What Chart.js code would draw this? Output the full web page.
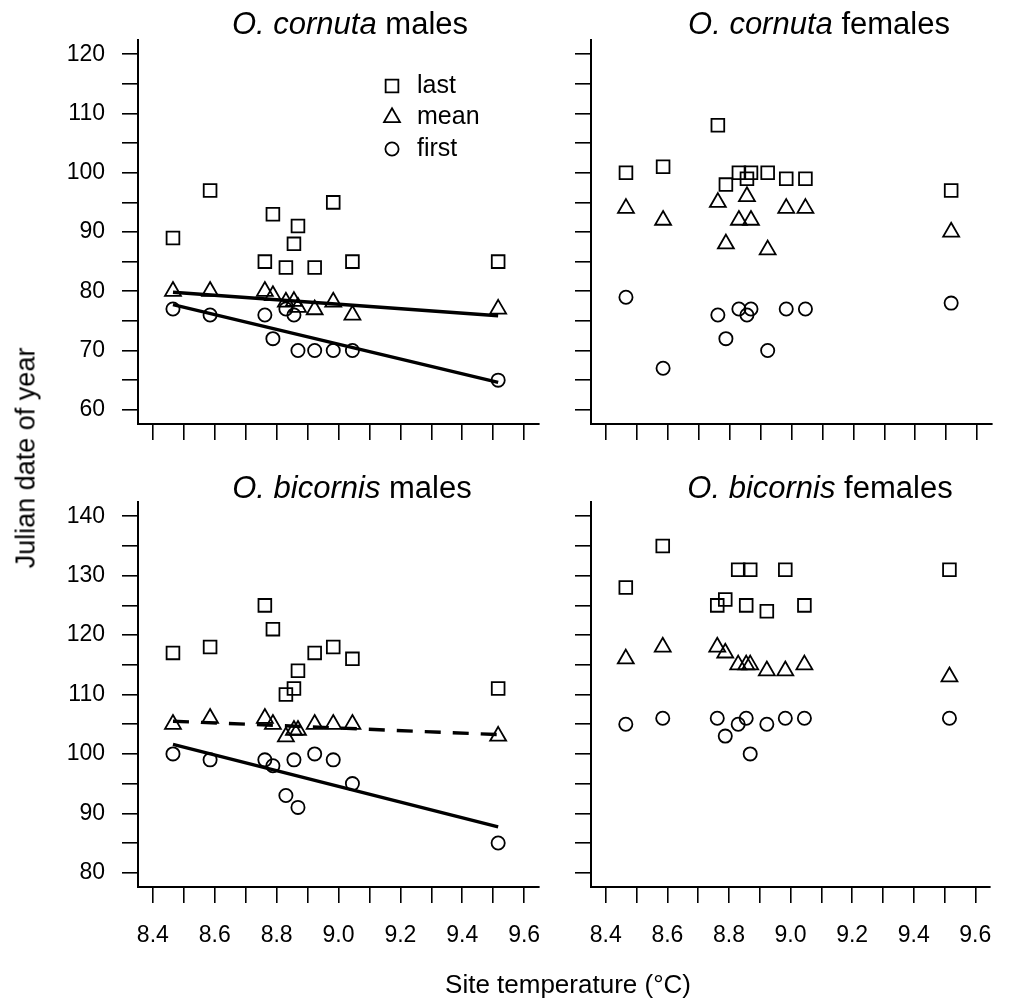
<!DOCTYPE html>
<html>
<head>
<meta charset="utf-8">
<script src="https://cdn.jsdelivr.net/npm/chart.js@4.4.1/dist/chart.umd.min.js"></script>
<style>
  body { margin: 0; background: #fff; width: 1011px; height: 999px; position: relative; overflow: hidden;
         font-family: 'Liberation Sans', Arial, sans-serif; color: #000; }
  canvas { position: absolute; }
  .lbl { position: absolute; white-space: nowrap; line-height: 1; transform: translate(-50%, -50%); }
</style>
</head>
<body>
<canvas id="tl" width="560" height="470" style="left:0;top:0"></canvas>
<canvas id="tr" width="451" height="470" style="left:560px;top:0"></canvas>
<canvas id="bl" width="560" height="529" style="left:0;top:470px"></canvas>
<canvas id="br" width="451" height="529" style="left:560px;top:470px"></canvas>

<div class="lbl" style="left:350px;top:23px;font-size:31px"><i>O. cornuta</i> males</div>
<div class="lbl" style="left:819px;top:23px;font-size:31px"><i>O. cornuta</i> females</div>
<div class="lbl" style="left:352px;top:487px;font-size:31px"><i>O. bicornis</i> males</div>
<div class="lbl" style="left:820px;top:487px;font-size:31px"><i>O. bicornis</i> females</div>
<div class="lbl" style="left:26px;top:458px;font-size:27px;transform:translate(-50%,-50%) rotate(-90deg)">Julian date of year</div>
<div class="lbl" style="left:568px;top:984px;font-size:26px">Site temperature (°C)</div>

<script>
// site temperatures (x), shared by all four panels
const temps = [8.465, 8.585, 8.762, 8.788, 8.83, 8.856, 8.869, 8.923, 8.983, 9.045, 9.516];

// O. cornuta males
const cornutaMalesLast  = [89, 97, 85, 93, 84, 88, 91, 84, 95, 85, 85];
const cornutaMalesMean  = [80, 80, 80, 79.3, 78.2, 78.3, 77.3, 76.9, 78.2, 76, 77];
const cornutaMalesFirst = [77, 76, 76, 72, 77, 76, 70, 70, 70, 70, 65];

// O. cornuta females
const cornutaFemalesLast  = [100, 101, 108, 98, 100, 99, 100, 100, 99, 99, 97];
const cornutaFemalesMean  = [94, 92, 95, 88, 92, 96, 92, 87, 94, 94, 90];
const cornutaFemalesFirst = [79, 67, 76, 72, 77, 76, 77, 70, 77, 77, 78];

// O. bicornis males
const bicornisMalesLast  = [117, 118, 125, 121, 110, 111, 114, 117, 118, 116, 111];
const bicornisMalesMean  = [105, 106, 106, 105, 102.9, 104, 104, 105, 105, 105, 103];
const bicornisMalesFirst = [100, 99, 99, 98, 93, 99, 91, 100, 99, 95, 85];

// O. bicornis females
const bicornisFemalesLast  = [128, 135, 125, 126, 131, 125, 131, 124, 131, 125, 131];
const bicornisFemalesMean  = [116, 118, 118, 117, 115, 115, 115, 114, 114, 115, 113];
const bicornisFemalesFirst = [105, 106, 106, 103, 105, 106, 100, 105, 106, 106, 106];

// axis ticks
const xTickValues = [8.4, 8.5, 8.6, 8.7, 8.8, 8.9, 9.0, 9.1, 9.2, 9.3, 9.4, 9.5, 9.6];
const xTickLabels = ['8.4', '', '8.6', '', '8.8', '', '9.0', '', '9.2', '', '9.4', '', '9.6'];
const yTicksTop = [60, 65, 70, 75, 80, 85, 90, 95, 100, 105, 110, 115, 120];
const yLabelsTop = ['60', '', '70', '', '80', '', '90', '', '100', '', '110', '', '120'];
const yTicksBottom = [80, 85, 90, 95, 100, 105, 110, 115, 120, 125, 130, 135, 140];
const yLabelsBottom = ['80', '', '90', '', '100', '', '110', '', '120', '', '130', '', '140'];

const legendNames = ['last', 'mean', 'first'];

const FONT = "'Liberation Sans', Arial, sans-serif";

function toPoints(ys) {
  return temps.map((x, i) => ({ x: x, y: ys[i] }));
}

// least squares line across the range of site temperatures
function fitLine(ys) {
  const n = temps.length;
  const mx = temps.reduce((a, b) => a + b, 0) / n;
  const my = ys.reduce((a, b) => a + b, 0) / n;
  let sxy = 0, sxx = 0;
  temps.forEach((x, i) => { sxy += (x - mx) * (ys[i] - my); sxx += (x - mx) * (x - mx); });
  const b = sxy / sxx;
  const x0 = Math.min(...temps), x1 = Math.max(...temps);
  return [{ x: x0, y: my + b * (x0 - mx) }, { x: x1, y: my + b * (x1 - mx) }];
}

function drawShape(ctx, style, r, x, y) {
  ctx.beginPath();
  if (style === 'rect') {
    const s = Math.SQRT1_2 * r;
    ctx.rect(x - s, y - s, 2 * s, 2 * s);
  } else if (style === 'triangle') {
    for (let k = 0; k < 3; k++) {
      const a = k * 2 * Math.PI / 3;
      const px = x + Math.sin(a) * r, py = y - Math.cos(a) * r;
      if (k === 0) ctx.moveTo(px, py); else ctx.lineTo(px, py);
    }
    ctx.closePath();
  } else {
    ctx.arc(x, y, r, 0, Math.PI * 2);
  }
  ctx.stroke();
}

const cornerLegend = {
  id: 'cornerLegend',
  afterDatasetsDraw(chart, args, opts) {
    if (!opts.show) return;
    const ctx = chart.ctx, area = chart.chartArea;
    ctx.save();
    legendNames.forEach((name, i) => {
      const ds = chart.data.datasets.find(d => d.label === name);
      const x = area.left + opts.x, y = area.top + opts.y + i * opts.step;
      ctx.strokeStyle = '#000';
      ctx.lineWidth = ds.borderWidth;
      drawShape(ctx, ds.pointStyle, ds.pointRadius, x, y);
      ctx.fillStyle = '#000';
      ctx.font = opts.fontSize + 'px ' + FONT;
      ctx.textAlign = 'left';
      ctx.textBaseline = 'middle';
      ctx.fillText(name, x + opts.gap, y);
    });
    ctx.restore();
  }
};

function scatterSet(label, ys, style, radius) {
  return {
    label: label,
    data: toPoints(ys),
    pointStyle: style,
    pointRadius: radius,
    borderColor: '#000',
    backgroundColor: 'rgba(0,0,0,0)',
    borderWidth: 1.8,
    showLine: false
  };
}

function fitSet(ys, dash) {
  return {
    label: 'fit',
    data: fitLine(ys),
    showLine: true,
    pointRadius: 0,
    borderColor: '#000',
    borderWidth: 3.4,
    borderDash: dash,
    fill: false
  };
}

function makePanel(id, p) {
  const datasets = [];
  p.fits.forEach(f => datasets.push(fitSet(f.ys, f.dash)));
  datasets.push(scatterSet('last', p.last, 'rect', 9));
  datasets.push(scatterSet('mean', p.mean, 'triangle', 9.2));
  datasets.push(scatterSet('first', p.first, 'circle', 6.6));

  return new Chart(document.getElementById(id), {
    type: 'scatter',
    data: { datasets: datasets },
    plugins: [cornerLegend],
    options: {
      responsive: false,
      animation: false,
      events: [],
      layout: { padding: { top: p.padTop, right: p.padRight, left: 0, bottom: 0 } },
      plugins: {
        legend: { display: false },
        tooltip: { enabled: false },
        cornerLegend: { show: p.legend, x: 254, y: 46, step: 31.5, gap: 25, fontSize: 25 }
      },
      scales: {
        x: {
          type: 'linear',
          min: 8.352,
          max: 9.648,
          afterBuildTicks: s => { s.ticks = xTickValues.map(v => ({ value: v })); },
          afterFit: s => { s.height = p.xHeight; },
          ticks: {
            autoSkip: false,
            maxRotation: 0,
            padding: 19,
            color: '#000',
            font: { family: FONT, size: 23 },
            callback: (v, i) => p.xLabels ? xTickLabels[i] : ''
          },
          grid: { drawOnChartArea: false, tickLength: 16, color: '#000', lineWidth: 1.6 },
          border: { color: '#000', width: 2 }
        },
        y: {
          type: 'linear',
          min: p.yMin,
          max: p.yMax,
          afterBuildTicks: s => { s.ticks = p.yTicks.map(v => ({ value: v })); },
          afterFit: s => { s.width = p.yWidth; },
          ticks: {
            autoSkip: false,
            padding: 17,
            color: '#000',
            font: { family: FONT, size: 23 },
            callback: (v, i) => p.yLabelsOn ? p.yLabels[i] : ''
          },
          grid: { drawOnChartArea: false, tickLength: 16, color: '#000', lineWidth: 1.6 },
          border: { color: '#000', width: 2 }
        }
      }
    }
  });
}

makePanel('tl', {
  last: cornutaMalesLast, mean: cornutaMalesMean, first: cornutaMalesFirst,
  fits: [{ ys: cornutaMalesMean, dash: [] }, { ys: cornutaMalesFirst, dash: [] }],
  yMin: 57.6, yMax: 122.4, yTicks: yTicksTop, yLabels: yLabelsTop, yLabelsOn: true,
  xLabels: false, legend: true, yWidth: 138, padTop: 40, padRight: 21, xHeight: 46
});

makePanel('tr', {
  last: cornutaFemalesLast, mean: cornutaFemalesMean, first: cornutaFemalesFirst,
  fits: [],
  yMin: 57.6, yMax: 122.4, yTicks: yTicksTop, yLabels: yLabelsTop, yLabelsOn: false,
  xLabels: false, legend: false, yWidth: 31, padTop: 40, padRight: 19, xHeight: 46
});

makePanel('bl', {
  last: bicornisMalesLast, mean: bicornisMalesMean, first: bicornisMalesFirst,
  fits: [{ ys: bicornisMalesMean, dash: [16, 12] }, { ys: bicornisMalesFirst, dash: [] }],
  yMin: 77.6, yMax: 142.4, yTicks: yTicksBottom, yLabels: yLabelsBottom, yLabelsOn: true,
  xLabels: true, legend: false, yWidth: 138, padTop: 32, padRight: 21, xHeight: 112
});

makePanel('br', {
  last: bicornisFemalesLast, mean: bicornisFemalesMean, first: bicornisFemalesFirst,
  fits: [],
  yMin: 77.6, yMax: 142.4, yTicks: yTicksBottom, yLabels: yLabelsBottom, yLabelsOn: false,
  xLabels: true, legend: false, yWidth: 31, padTop: 32, padRight: 19, xHeight: 112
});
</script>
</body>
</html>
